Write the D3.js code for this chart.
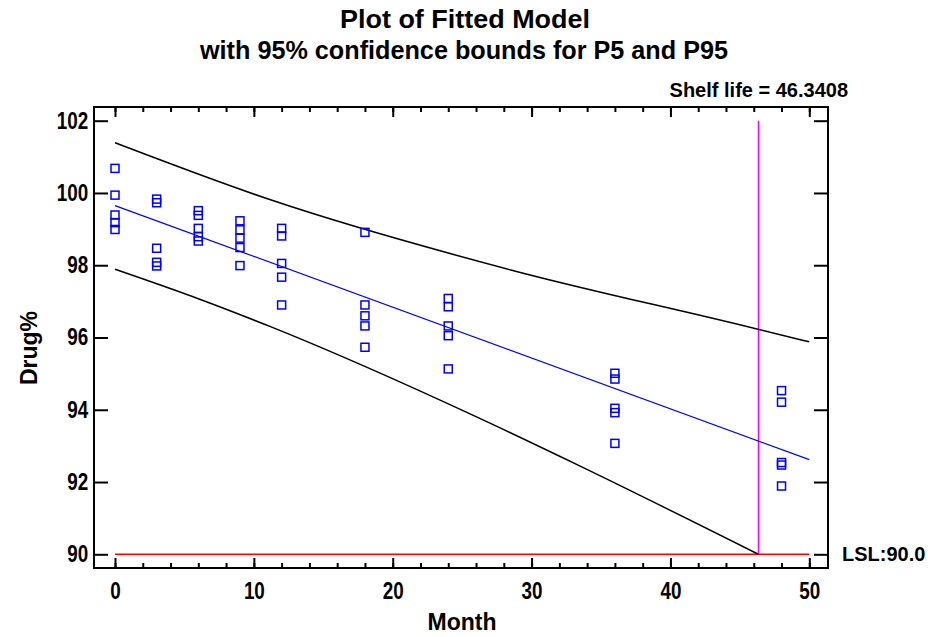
<!DOCTYPE html>
<html>
<head>
<meta charset="utf-8">
<script src="https://cdn.jsdelivr.net/npm/d3@7"></script>
<style>
  body { margin: 0; background: #fff; }
  text { font-family: "Liberation Sans", Arial, sans-serif; font-weight: bold; fill: #000; }
</style>
</head>
<body>
<svg id="chart" width="928" height="637"></svg>
<script>
// observed months and drug % (5 per month)
const months = [0, 3, 6, 9, 12, 18, 24, 36, 48];
const drugValues = [
  [100.68, 99.94, 99.39, 99.18, 98.99],
  [99.83, 99.73, 98.47, 98.08, 97.98],
  [99.51, 99.38, 99.02, 98.79, 98.67],
  [99.23, 98.98, 98.75, 98.49, 97.99],
  [99.02, 98.81, 98.05, 97.67, 96.90],
  [98.91, 96.90, 96.60, 96.32, 95.73],
  [97.08, 96.85, 96.32, 96.05, 95.13],
  [95.01, 94.85, 94.04, 93.92, 93.07],
  [94.53, 94.21, 92.54, 92.47, 91.89]
];

// fitted line + bounds
const fitMonths = [0, 50];
const fitValues = [99.65, 92.62];
const upperMonths = [0, 11.2, 28.5, 45, 50];
const upperValues = [101.39, 99.81, 97.87, 96.35, 95.88];
const lowerMonths = [0, 6.1, 11.2, 26.5, 33.5, 46.34];
const lowerValues = [97.89, 97.06, 96.30, 93.72, 92.44, 90.0];

const shelfLife = 46.3408;
const lsl = 90.0;
const xTicks = [0, 10, 20, 30, 40, 50];
const yTicks = [90, 92, 94, 96, 98, 100, 102];

const svg = d3.select("#chart");

const frame = { left: 94, right: 828, top: 107, bottom: 568 };

const x = d3.scaleLinear().domain([0, 50]).range([115, 809.3]);
const y = d3.scaleLinear().domain([90, 102]).range([554.3, 120.7]);

// titles
svg.append("text").attr("x", 465).attr("y", 28).attr("text-anchor", "middle")
  .attr("textLength", 250).attr("lengthAdjust", "spacingAndGlyphs")
  .style("font-size", "26px").text("Plot of Fitted Model");
svg.append("text").attr("x", 464).attr("y", 59).attr("text-anchor", "middle")
  .attr("textLength", 528).attr("lengthAdjust", "spacingAndGlyphs")
  .style("font-size", "26px").text("with 95% confidence bounds for P5 and P95");
svg.append("text").attr("x", 848).attr("y", 97).attr("text-anchor", "end")
  .style("font-size", "20px").text("Shelf life = " + shelfLife);

// LSL + shelf life lines
svg.append("line")
  .attr("x1", x(0)).attr("x2", x(50)).attr("y1", y(lsl)).attr("y2", y(lsl))
  .attr("stroke", "#ff0000").attr("stroke-width", 1.5);
svg.append("line")
  .attr("x1", x(shelfLife)).attr("x2", x(shelfLife)).attr("y1", y(102)).attr("y2", y(lsl))
  .attr("stroke", "#ff00ff").attr("stroke-width", 1.5);

svg.append("text").attr("x", 842).attr("y", y(lsl) + 7)
  .style("font-size", "20px").text("LSL:" + lsl.toFixed(1));

const line = d3.line().x(d => x(d[0])).y(d => y(d[1]));

svg.append("path")
  .datum(d3.zip(upperMonths, upperValues))
  .attr("d", line.curve(d3.curveMonotoneX))
  .attr("fill", "none").attr("stroke", "#000").attr("stroke-width", 1.5);
svg.append("path")
  .datum(d3.zip(lowerMonths, lowerValues))
  .attr("d", line.curve(d3.curveMonotoneX))
  .attr("fill", "none").attr("stroke", "#000").attr("stroke-width", 1.5);
svg.append("path")
  .datum(d3.zip(fitMonths, fitValues))
  .attr("d", line.curve(d3.curveLinear))
  .attr("fill", "none").attr("stroke", "#0000ff").attr("stroke-width", 1.2);

// points
const points = months.flatMap((m, i) => drugValues[i].map(v => ({ m, v })));
svg.append("g").selectAll("rect")
  .data(points)
  .join("rect")
  .attr("x", d => x(d.m) - 4)
  .attr("y", d => y(d.v) - 4)
  .attr("width", 8).attr("height", 8)
  .attr("fill", "none").attr("stroke", "#0000ff").attr("stroke-width", 1.5);

// frame
svg.append("rect")
  .attr("x", frame.left).attr("y", frame.top)
  .attr("width", frame.right - frame.left).attr("height", frame.bottom - frame.top)
  .attr("fill", "none").attr("stroke", "#000").attr("stroke-width", 2);

// axes
const minor = d3.range(0, 51, 2);
const gb = svg.append("g").attr("transform", `translate(0,${frame.bottom})`);
gb.call(d3.axisBottom(x).tickValues(minor).tickSizeInner(-5).tickSizeOuter(0).tickFormat(""));
gb.append("g").attr("class", "lab")
  .call(d3.axisBottom(x).tickValues(xTicks).tickSizeInner(-10).tickSizeOuter(0).tickPadding(15));
const gt = svg.append("g").attr("transform", `translate(0,${frame.top})`);
gt.call(d3.axisTop(x).tickValues(minor).tickSizeInner(-5).tickSizeOuter(0).tickFormat(""));
gt.append("g").call(d3.axisTop(x).tickValues(xTicks).tickSizeInner(-10).tickSizeOuter(0).tickFormat(""));
svg.append("g").attr("class", "lab").attr("transform", `translate(${frame.left},0)`)
  .call(d3.axisLeft(y).tickValues(yTicks).tickSizeInner(-14).tickSizeOuter(0).tickPadding(7));
svg.append("g").attr("transform", `translate(${frame.right},0)`)
  .call(d3.axisRight(y).tickValues(yTicks).tickSizeInner(-14).tickSizeOuter(0).tickFormat(""));

svg.selectAll(".domain").remove();
svg.selectAll(".tick line").attr("stroke", "#000").attr("stroke-width", 2);
svg.selectAll(".lab .tick text")
  .style("font-size", "23px")
  .style("font-family", "'Liberation Sans', Arial, sans-serif")
  .style("font-weight", "bold").attr("fill", "#000")
  .attr("transform", "scale(0.82,1)");

// axis titles
svg.append("text").attr("x", 462).attr("y", 630).attr("text-anchor", "middle")
  .style("font-size", "23px").text("Month");
svg.append("text")
  .attr("transform", `translate(37,348) rotate(-90)`)
  .attr("text-anchor", "middle")
  .style("font-size", "23px").text("Drug%");
</script>
</body>
</html>
